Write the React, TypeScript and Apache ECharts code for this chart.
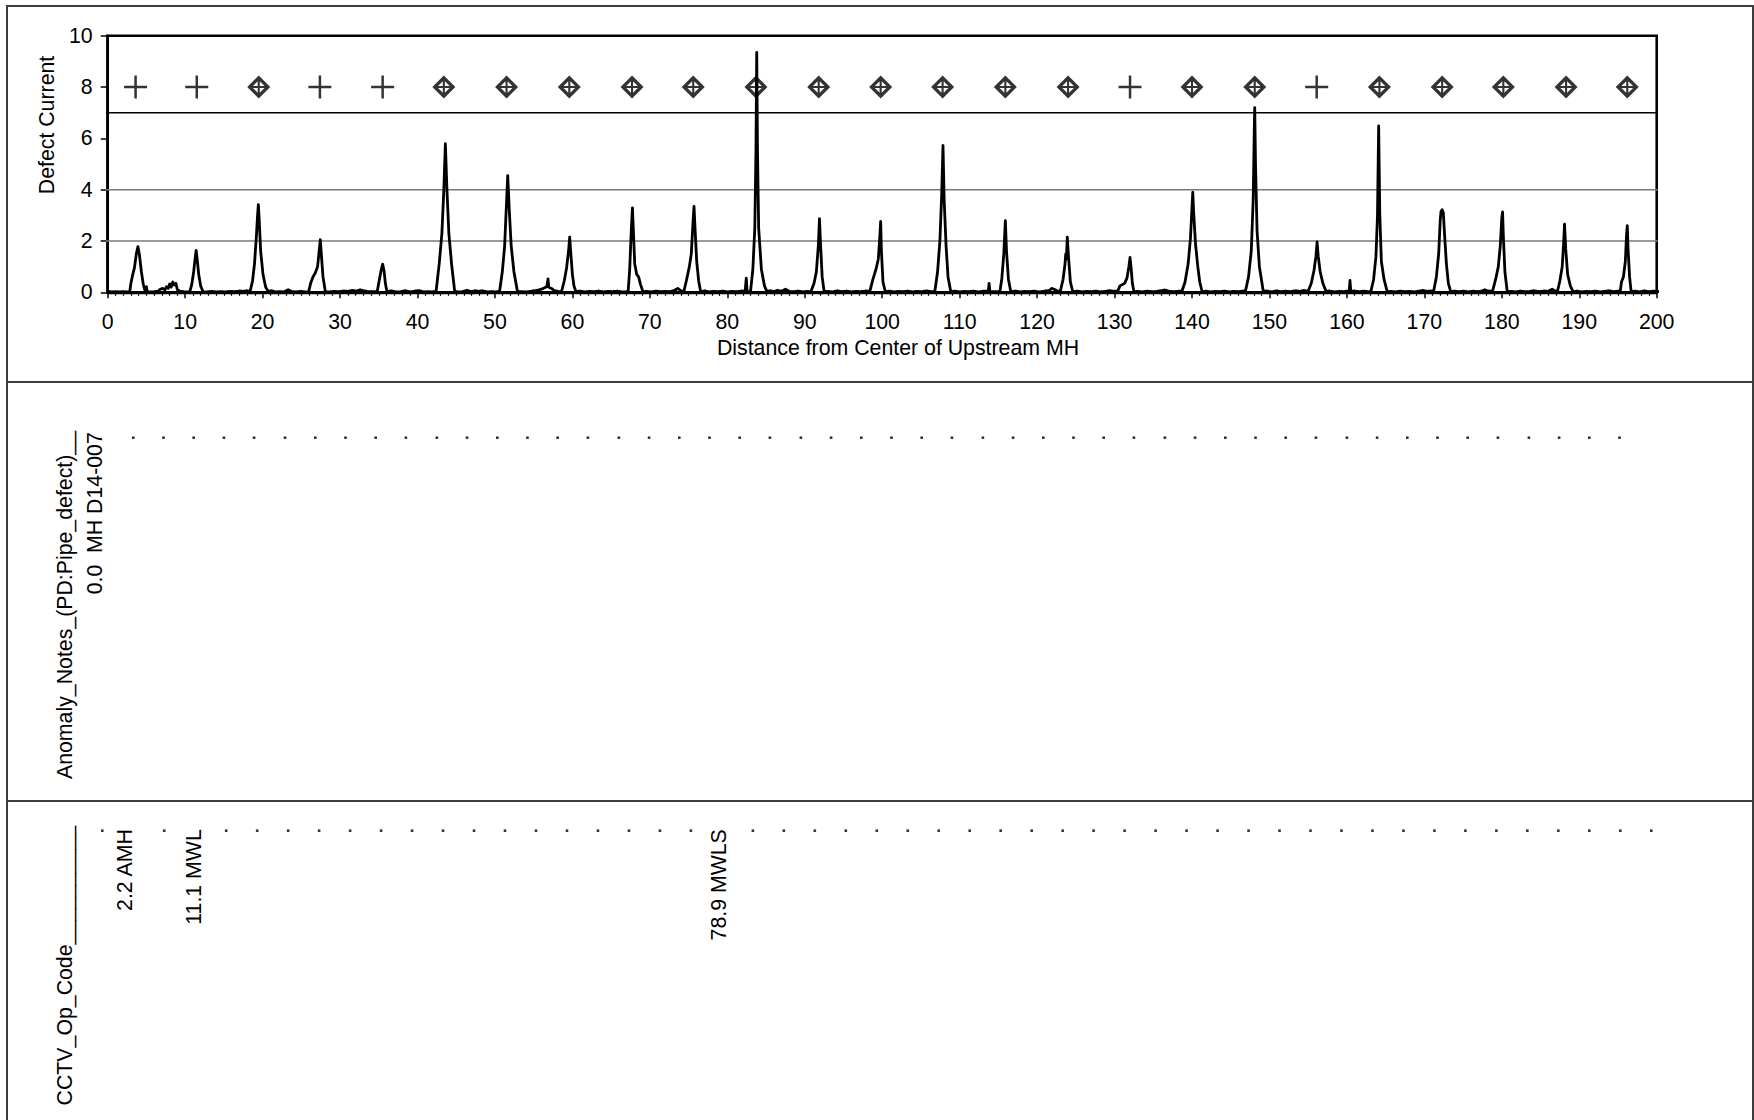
import React, { useEffect, useRef } from "react";
import * as echarts from "echarts";

const FONT = '"Liberation Sans", Arial, Helvetica, sans-serif';
const FS = 21.3;

// ---- data ----
const xMin = 0;
const xMax = 200;
const xInterval = 10;
const yMin = 0;
const yMax = 10;
const yInterval = 2;

const trace: [number, number][] = [
  [-0.9, 0.03], [-0.5, 0.02], [0, 0.04], [0.5, 0.02], [1.0, 0.03], [1.5, 0.02], [2.0, 0.03], [2.5, 0.02],
  [2.85, 0.03], [3.0, 0.35], [3.2, 0.65], [3.45, 0.95], [3.7, 1.5], [3.9, 1.78], [4.1, 1.45], [4.35, 0.8], [4.6, 0.3], [4.85, 0.03], [5.0, 0.22], [5.1, 0.03],
  [5.5, 0.02], [6.0, 0.03], [6.5, 0.05], [6.8, 0.12], [7.1, 0.15], [7.4, 0.1], [7.6, 0.22], [7.8, 0.15], [8.0, 0.33], [8.2, 0.2], [8.4, 0.4], [8.6, 0.28], [8.8, 0.35], [9.0, 0.1], [9.3, 0.05], [9.8, 0.03], [10.2, 0.02],
  [10.6, 0.03], [10.85, 0.3], [11.1, 0.8], [11.3, 1.35], [11.42, 1.63], [11.55, 1.3], [11.75, 0.7], [12.0, 0.25], [12.3, 0.03],
  [12.8, 0.02], [13.4, 0.04], [14.0, 0.02], [14.6, 0.03], [15.2, 0.02], [15.8, 0.04], [16.4, 0.03], [17.0, 0.05], [17.5, 0.04], [18.0, 0.06],
  [18.4, 0.04], [18.7, 0.45], [18.95, 1.1], [19.2, 2.2], [19.35, 3.0], [19.45, 3.42], [19.55, 2.9], [19.75, 1.6], [20.05, 0.7], [20.4, 0.2], [20.7, 0.04],
  [21.2, 0.06], [21.6, 0.02], [22.2, 0.03], [22.8, 0.02], [23.3, 0.1], [23.7, 0.04], [24.3, 0.02], [24.9, 0.04], [25.5, 0.02],
  [25.95, 0.03], [26.2, 0.35], [26.5, 0.6], [26.8, 0.75], [27.1, 1.0], [27.3, 1.6], [27.45, 2.05], [27.6, 1.4], [27.8, 0.6], [28.1, 0.03],
  [28.6, 0.02], [29.2, 0.04], [29.8, 0.03], [30.4, 0.05], [31.0, 0.04], [31.6, 0.07], [32.1, 0.05], [32.6, 0.1], [33.0, 0.06], [33.5, 0.04], [34.2, 0.03],
  [34.8, 0.03], [35.05, 0.45], [35.3, 0.85], [35.5, 1.1], [35.7, 0.8], [35.85, 0.35], [36.05, 0.03],
  [36.6, 0.06], [37.2, 0.02], [37.8, 0.03], [38.5, 0.06], [39.1, 0.02], [39.7, 0.05], [40.3, 0.06], [40.8, 0.02], [41.4, 0.03], [41.9, 0.02],
  [42.4, 0.04], [42.8, 1.1], [43.15, 2.3], [43.4, 4.0], [43.6, 5.79], [43.8, 4.0], [44.05, 2.3], [44.4, 1.1], [44.8, 0.04],
  [45.3, 0.02], [45.8, 0.03], [46.4, 0.08], [46.9, 0.03], [47.4, 0.06], [47.9, 0.04], [48.4, 0.06], [49.0, 0.02], [49.6, 0.03], [50.1, 0.02],
  [50.6, 0.04], [50.95, 0.8], [51.25, 1.8], [51.45, 3.2], [51.65, 4.55], [51.85, 3.2], [52.1, 1.8], [52.45, 0.8], [52.9, 0.04],
  [53.4, 0.03], [54.0, 0.02], [54.6, 0.04], [55.1, 0.06], [55.5, 0.08], [56.0, 0.12], [56.4, 0.18], [56.7, 0.22], [56.85, 0.52], [56.95, 0.2], [57.3, 0.15], [57.7, 0.06], [58.2, 0.04],
  [58.6, 0.03], [58.95, 0.45], [59.25, 0.95], [59.5, 1.6], [59.65, 2.15], [59.8, 1.5], [60.0, 0.7], [60.2, 0.25], [60.45, 0.03],
  [61.0, 0.05], [61.6, 0.02], [62.2, 0.04], [62.8, 0.03], [63.4, 0.05], [64.0, 0.02], [64.6, 0.04], [65.2, 0.03], [65.8, 0.05], [66.4, 0.02], [66.9, 0.03],
  [67.2, 0.04], [67.4, 0.9], [67.6, 2.4], [67.75, 3.29], [67.9, 2.2], [68.05, 1.1], [68.3, 0.7], [68.55, 0.6], [68.8, 0.3], [69.1, 0.03],
  [69.6, 0.04], [70.2, 0.02], [70.8, 0.05], [71.4, 0.03], [72.0, 0.04], [72.6, 0.03], [73.2, 0.08], [73.6, 0.15], [74.0, 0.06],
  [74.4, 0.04], [74.75, 0.5], [75.1, 1.0], [75.35, 1.5], [75.55, 2.6], [75.7, 3.35], [75.85, 2.4], [76.05, 1.2], [76.3, 0.45], [76.55, 0.03],
  [77.1, 0.06], [77.6, 0.02], [78.2, 0.04], [78.8, 0.03], [79.4, 0.05], [80.0, 0.02], [80.6, 0.04], [81.2, 0.03], [81.8, 0.05],
  [82.3, 0.04], [82.45, 0.55], [82.55, 0.04], [82.8, 0.03],
  [83.0, 0.04], [83.3, 0.9], [83.55, 2.5], [83.7, 5.5], [83.8, 9.35], [83.9, 5.5], [84.05, 2.5], [84.4, 0.9], [84.8, 0.25], [85.1, 0.04],
  [85.6, 0.06], [86.0, 0.03], [86.5, 0.08], [87.0, 0.04], [87.5, 0.12], [88.0, 0.04], [88.6, 0.03], [89.2, 0.05], [89.8, 0.02], [90.3, 0.04],
  [90.8, 0.03], [91.2, 0.35], [91.5, 0.8], [91.75, 1.8], [91.9, 2.87], [92.05, 1.8], [92.25, 0.6], [92.5, 0.03],
  [93.0, 0.04], [93.6, 0.02], [94.2, 0.06], [94.8, 0.03], [95.4, 0.05], [96.0, 0.02], [96.6, 0.04], [97.2, 0.03], [97.8, 0.05],
  [98.4, 0.04], [98.8, 0.5], [99.2, 0.9], [99.5, 1.3], [99.7, 2.2], [99.8, 2.76], [99.9, 1.6], [100.1, 0.4], [100.4, 0.03],
  [100.9, 0.05], [101.5, 0.02], [102.1, 0.04], [102.7, 0.03], [103.3, 0.05], [103.9, 0.02], [104.5, 0.04], [105.1, 0.03], [105.7, 0.06], [106.3, 0.03],
  [106.8, 0.04], [107.15, 0.8], [107.45, 2.0], [107.68, 3.8], [107.85, 5.72], [108.0, 3.6], [108.25, 1.8], [108.5, 0.6], [108.85, 0.03],
  [109.4, 0.05], [110.0, 0.02], [110.6, 0.04], [111.2, 0.03], [111.8, 0.05], [112.4, 0.02], [113.0, 0.04],
  [113.7, 0.04], [113.8, 0.35], [113.9, 0.04], [114.5, 0.03],
  [115.2, 0.03], [115.45, 0.55], [115.7, 1.5], [115.9, 2.79], [116.05, 1.6], [116.3, 0.5], [116.6, 0.03],
  [117.2, 0.05], [117.8, 0.02], [118.4, 0.04], [119.0, 0.03], [119.6, 0.05], [120.2, 0.02], [120.8, 0.04], [121.3, 0.06],
  [121.6, 0.08], [121.9, 0.15], [122.2, 0.12], [122.6, 0.05],
  [123.0, 0.04], [123.35, 0.5], [123.6, 1.1], [123.7, 1.5], [123.78, 1.3], [123.9, 2.15], [124.05, 1.4], [124.3, 0.4], [124.6, 0.03],
  [125.2, 0.05], [125.8, 0.02], [126.4, 0.04], [127.0, 0.03], [127.6, 0.05], [128.2, 0.02], [128.8, 0.04], [129.4, 0.06], [129.9, 0.04],
  [130.4, 0.04], [130.7, 0.25], [131.0, 0.3], [131.3, 0.35], [131.6, 0.55], [131.85, 1.0], [132.0, 1.36], [132.15, 0.9], [132.3, 0.35], [132.5, 0.03],
  [133.0, 0.04], [133.6, 0.02], [134.2, 0.05], [134.8, 0.03], [135.4, 0.04], [136.0, 0.06], [136.5, 0.09], [137.0, 0.05], [137.6, 0.03], [138.2, 0.04],
  [138.7, 0.04], [139.1, 0.4], [139.5, 1.1], [139.8, 2.1], [140.0, 3.3], [140.1, 3.9], [140.2, 3.2], [140.45, 1.9], [140.75, 1.0], [141.0, 0.4], [141.3, 0.03],
  [141.8, 0.05], [142.4, 0.02], [143.0, 0.04], [143.6, 0.03], [144.2, 0.05], [144.8, 0.02], [145.4, 0.04], [146.0, 0.03], [146.5, 0.05],
  [146.9, 0.04], [147.3, 0.6], [147.65, 1.6], [147.9, 3.6], [148.05, 6.5], [148.1, 7.2], [148.2, 5.0], [148.4, 2.4], [148.7, 1.0], [149.2, 0.04],
  [149.7, 0.05], [150.3, 0.02], [150.9, 0.06], [151.5, 0.03], [152.1, 0.05], [152.7, 0.03], [153.3, 0.06], [153.9, 0.04], [154.5, 0.07],
  [155.0, 0.04], [155.4, 0.35], [155.75, 0.85], [156.0, 1.4], [156.15, 1.96], [156.3, 1.4], [156.55, 0.8], [156.9, 0.35], [157.3, 0.04],
  [157.8, 0.05], [158.4, 0.02], [159.0, 0.04], [159.6, 0.03], [160.0, 0.05],
  [160.3, 0.04], [160.4, 0.46], [160.5, 0.04], [161.0, 0.05], [161.6, 0.03], [162.2, 0.05], [162.7, 0.03],
  [163.1, 0.04], [163.45, 0.5], [163.75, 1.4], [163.95, 3.0], [164.1, 6.48], [164.25, 3.0], [164.45, 1.2], [164.8, 0.5], [165.2, 0.03],
  [165.7, 0.04], [166.3, 0.02], [166.9, 0.05], [167.5, 0.03], [168.1, 0.04], [168.7, 0.02], [169.3, 0.05], [169.9, 0.07], [170.4, 0.04], [170.8, 0.05],
  [171.2, 0.04], [171.55, 0.6], [171.85, 1.5], [172.05, 2.8], [172.15, 3.15], [172.3, 3.22], [172.45, 3.1], [172.6, 2.3], [172.85, 1.1], [173.1, 0.35], [173.4, 0.03],
  [173.9, 0.05], [174.5, 0.03], [175.1, 0.05], [175.7, 0.02], [176.3, 0.05], [176.9, 0.03], [177.5, 0.06], [177.8, 0.1], [178.2, 0.05],
  [178.8, 0.04], [179.2, 0.5], [179.55, 1.0], [179.8, 1.8], [180.0, 2.9], [180.1, 3.13], [180.2, 2.2], [180.4, 0.8], [180.7, 0.03],
  [181.2, 0.04], [181.8, 0.02], [182.4, 0.05], [183.0, 0.03], [183.6, 0.04], [184.2, 0.06], [184.8, 0.03], [185.4, 0.05], [186.0, 0.04], [186.5, 0.12], [186.8, 0.06],
  [187.2, 0.05], [187.5, 0.45], [187.8, 1.0], [188.0, 2.0], [188.1, 2.66], [188.25, 1.7], [188.5, 0.7], [188.85, 0.25], [189.2, 0.03],
  [189.7, 0.05], [190.3, 0.02], [190.9, 0.04], [191.5, 0.03], [192.1, 0.05], [192.7, 0.02], [193.3, 0.04], [193.9, 0.06], [194.5, 0.03], [195.0, 0.05],
  [195.3, 0.04], [195.45, 0.4], [195.7, 0.6], [195.95, 1.2], [196.1, 2.2], [196.2, 2.6], [196.3, 1.7], [196.5, 0.6], [196.7, 0.03],
  [197.2, 0.05], [197.8, 0.02], [198.4, 0.06], [199.0, 0.03], [199.6, 0.05], [200.2, 0.03], [200.7, 0.06], [201.1, 0.03], [201.4, 0.05],
];

const markerLevel = 8;
const plusMarkerX = [3.6, 11.5, 27.4, 35.5, 132.0, 156.1];
const diamondMarkerX = [19.5, 43.4, 51.5, 59.6, 67.7, 75.6, 83.7, 91.8, 99.8, 107.8, 115.9, 124.0, 140.0, 148.1, 164.2, 172.3, 180.2, 188.3, 196.2];

const limitLevel = 7;
const limitSpan = [-1.5, 201.4];
const guideLevels = [2, 4];
const guideSpan = [-0.9, 201.4];

const notesDotX = [3.3, 7.2, 11.1, 15.0, 18.9, 22.9, 26.8, 30.7, 34.6, 38.5, 42.5, 46.4, 50.3, 54.2, 58.1, 62.0, 66.0, 69.9, 73.8, 77.7, 81.6, 85.5, 89.5, 93.4, 97.3, 101.2, 105.1, 109.0, 113.0, 116.9, 120.8, 124.7, 128.6, 132.5, 136.5, 140.4, 144.3, 148.2, 152.1, 156.0, 160.0, 163.9, 167.8, 171.7, 175.6, 179.5, 183.5, 187.4, 191.3, 195.2];
const notesX = [0.0];
const notesText = ["MH D14-007"];

const cctvDotX = [-0.7, 7.3, 15.3, 19.3, 23.3, 27.3, 31.3, 35.3, 39.3, 43.3, 47.3, 51.3, 55.3, 59.3, 63.3, 67.3, 71.3, 75.3, 83.3, 87.3, 91.3, 95.3, 99.3, 103.3, 107.3, 111.3, 115.3, 119.3, 123.3, 127.3, 131.3, 135.3, 139.3, 143.3, 147.3, 151.3, 155.3, 159.3, 163.3, 167.3, 171.3, 175.3, 179.3, 183.3, 187.3, 191.3, 195.3, 199.3];
const cctvX = [2.2, 11.1, 78.9];
const cctvCodes = ["AMH", "MWL", "MWLS"];

const yAxisTitle = "Defect Current";
const xAxisTitle = "Distance from Center of Upstream MH";
const notesTitle = "Anomaly_Notes_(PD:Pipe_defect)__";
const cctvTitle = "CCTV_Op_Code__________";

// ---- symbols ----
const PLUS_PATH =
  "path://M10.7,0 L13.3,0 L13.3,10.7 L24,10.7 L24,13.3 L13.3,13.3 L13.3,24 L10.7,24 L10.7,13.3 L0,13.3 L0,10.7 L10.7,10.7 Z";
const DIAMOND_PATH =
  "path://M12,0 L24,12 L12,24 L0,12 Z M12,4.9 L4.9,12 L12,19.1 L19.1,12 Z M10.9,4 L13.1,4 L13.1,20 L10.9,20 Z M4,10.9 L20,10.9 L20,13.1 L4,13.1 Z";

const GRID_LEFT = 107.7;
const GRID_WIDTH = 1549;

function textEl(text: string, x: number, y: number, rot: number, align: string, valign: string) {
  return {
    type: "text",
    x,
    y,
    rotation: rot,
    silent: true,
    style: {
      text,
      fontSize: FS,
      fontFamily: FONT,
      fill: "#000",
      align,
      textAlign: align,
      verticalAlign: valign,
      textVerticalAlign: valign,
    },
  };
}

export default function App() {
  const ref = useRef<HTMLDivElement>(null);

  useEffect(() => {
    if (!ref.current) return;
    const chart = echarts.init(ref.current, null, { renderer: "svg" });

    const hiddenX = (gi: number) => ({
      type: "value",
      gridIndex: gi,
      min: xMin,
      max: xMax,
      show: false,
    });
    const hiddenY = (gi: number) => ({
      type: "value",
      gridIndex: gi,
      min: 0,
      max: 1,
      show: false,
    });

    const option: any = {
      animation: false,
      backgroundColor: "#ffffff",
      textStyle: { fontFamily: FONT },
      grid: [
        { left: GRID_LEFT, top: 35.7, width: GRID_WIDTH, height: 256.6, show: true, borderColor: "#000", borderWidth: 2.6, backgroundColor: "transparent" },
        { left: GRID_LEFT, top: 437.7, width: GRID_WIDTH, height: 100 },
        { left: GRID_LEFT, top: 830.7, width: GRID_WIDTH, height: 100 },
      ],
      xAxis: [
        {
          type: "value",
          gridIndex: 0,
          min: xMin,
          max: xMax,
          interval: xInterval,
          axisLine: { show: true, onZero: false, lineStyle: { color: "#000", width: 2.4 } },
          axisTick: { show: true, inside: false, length: 6, lineStyle: { color: "#000", width: 1.5 } },
          minorTick: { show: true, splitNumber: 10, length: 3.5, lineStyle: { color: "#000", width: 1.2 } },
          axisLabel: { show: true, margin: 19, color: "#000", fontSize: FS, fontFamily: FONT },
          splitLine: { show: false },
          minorSplitLine: { show: false },
        },
        hiddenX(1),
        hiddenX(2),
      ],
      yAxis: [
        {
          type: "value",
          gridIndex: 0,
          min: yMin,
          max: yMax,
          interval: yInterval,
          axisLine: { show: true, onZero: false, lineStyle: { color: "#000", width: 2.6 } },
          axisTick: { show: true, inside: false, length: 7, lineStyle: { color: "#000", width: 1.5 } },
          axisLabel: { show: true, margin: 15, color: "#000", fontSize: FS, fontFamily: FONT },
          splitLine: { show: false },
        },
        hiddenY(1),
        hiddenY(2),
      ],
      series: [
        ...guideLevels.map((lv) => ({
          type: "line",
          name: "guide" + lv,
          xAxisIndex: 0,
          yAxisIndex: 0,
          clip: false,
          silent: true,
          symbol: "none",
          lineStyle: { color: "#7a7a7a", width: 1.5 },
          data: guideSpan.map((x) => [x, lv]),
          z: 1,
        })),
        {
          type: "line",
          name: "limit",
          xAxisIndex: 0,
          yAxisIndex: 0,
          clip: false,
          silent: true,
          symbol: "none",
          lineStyle: { color: "#000", width: 1.6 },
          data: limitSpan.map((x) => [x, limitLevel]),
          z: 2,
        },
        {
          type: "line",
          name: "Defect Current",
          xAxisIndex: 0,
          yAxisIndex: 0,
          clip: false,
          silent: true,
          symbol: "none",
          lineStyle: { color: "#000", width: 2.8, join: "round" },
          data: trace,
          z: 3,
        },
        {
          type: "scatter",
          name: "plus",
          xAxisIndex: 0,
          yAxisIndex: 0,
          symbol: PLUS_PATH,
          symbolSize: 23,
          itemStyle: { color: "#000" },
          silent: true,
          data: plusMarkerX.map((x) => [x, markerLevel]),
          z: 4,
        },
        {
          type: "scatter",
          name: "diamond",
          xAxisIndex: 0,
          yAxisIndex: 0,
          symbol: DIAMOND_PATH,
          symbolSize: 23,
          itemStyle: { color: "#000" },
          silent: true,
          data: diamondMarkerX.map((x) => [x, markerLevel]),
          z: 4,
        },
        {
          type: "scatter",
          name: "notesDots",
          xAxisIndex: 1,
          yAxisIndex: 1,
          clip: false,
          symbol: "rect",
          symbolSize: 2.6,
          itemStyle: { color: "#000" },
          silent: true,
          data: notesDotX.map((x) => [x, 1]),
        },
        {
          type: "scatter",
          name: "cctvDots",
          xAxisIndex: 2,
          yAxisIndex: 2,
          clip: false,
          symbol: "rect",
          symbolSize: 2.6,
          itemStyle: { color: "#000" },
          silent: true,
          data: cctvDotX.map((x) => [x, 1]),
        },
      ],
    };

    chart.setOption(option);

    const graphics: any[] = [
      { type: "rect", silent: true, shape: { x: 7, y: 6, width: 1746, height: 1200 }, style: { fill: "none", stroke: "#3c3c3c", lineWidth: 2 } },
      { type: "line", silent: true, shape: { x1: 7, y1: 382, x2: 1753, y2: 382 }, style: { stroke: "#3c3c3c", lineWidth: 2 } },
      { type: "line", silent: true, shape: { x1: 7, y1: 801, x2: 1753, y2: 801 }, style: { stroke: "#3c3c3c", lineWidth: 2 } },
      textEl(yAxisTitle, 47, 125, Math.PI / 2, "center", "middle"),
      textEl(xAxisTitle, 898, 348, 0, "center", "middle"),
      textEl(notesTitle, 65, 431, Math.PI / 2, "right", "middle"),
      textEl(cctvTitle, 65, 826, Math.PI / 2, "right", "middle"),
    ];

    notesX.forEach((x, i) => {
      const p = chart.convertToPixel({ xAxisIndex: 1, yAxisIndex: 1 }, [x, 1]) as number[];
      graphics.push(textEl(x.toFixed(1) + "  " + notesText[i], p[0] - 12.5, p[1] - 5.5, Math.PI / 2, "right", "middle"));
    });
    cctvX.forEach((x, i) => {
      const p = chart.convertToPixel({ xAxisIndex: 2, yAxisIndex: 2 }, [x, 1]) as number[];
      graphics.push(textEl(x.toFixed(1) + " " + cctvCodes[i], p[0], p[1] - 1.5, Math.PI / 2, "right", "middle"));
    });

    chart.setOption({ graphic: graphics });

    return () => {
      chart.dispose();
    };
  }, []);

  return (
    <div
      ref={ref}
      style={{ position: "fixed", left: 0, top: 0, width: 1754, height: 1120, background: "#fff" }}
    />
  );
}
